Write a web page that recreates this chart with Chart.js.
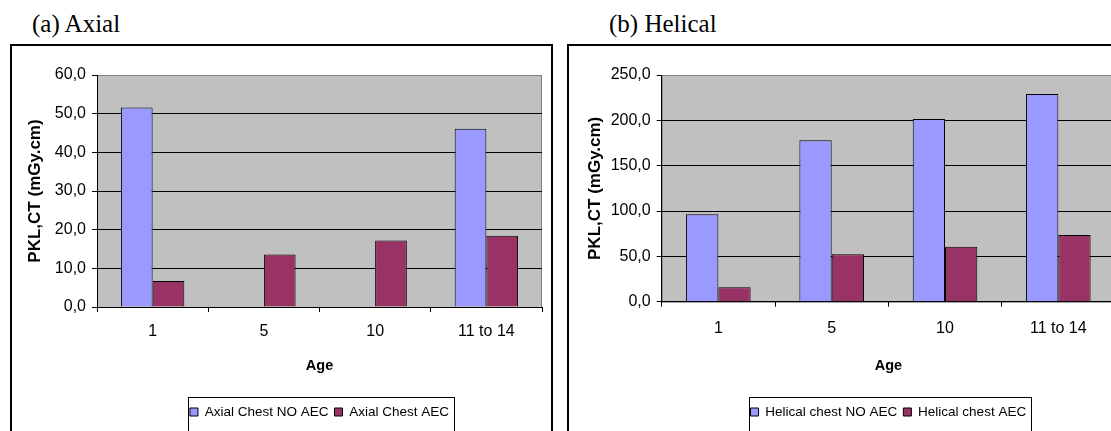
<!DOCTYPE html>
<html>
<head>
<meta charset="utf-8">
<script src="https://cdn.jsdelivr.net/npm/chart.js@4"></script>
<style>
  body { margin: 0; width: 1111px; height: 431px; overflow: hidden; background: #fff; position: relative; }
  .cap { position: absolute; top: 11px; font-family: 'Liberation Serif', 'Times New Roman', serif; font-size: 25px; line-height: 25px; color: #000; }
  .frame { position: absolute; top: 44px; height: 500px; border: 2px solid #000; box-sizing: border-box; }
  canvas { position: absolute; }
</style>
</head>
<body>
<div class="cap" style="left:32px">(a) Axial</div>
<div class="cap" style="left:609px">(b) Helical</div>
<div class="frame" style="left:10px;width:543px"></div>
<div class="frame" style="left:567px;width:600px"></div>
<canvas id="axial" width="539" height="385" style="left:12px;top:46px"></canvas>
<canvas id="helical" width="555" height="385" style="left:569px;top:46px"></canvas>
<script>
// données
const ages = ["1", "5", "10", "11 to 14"];
const axialNoAec = [51.6, null, null, 46.1];
const axialAec = [6.7, 13.6, 17.2, 18.4];
const helicalNoAec = [96.4, 178.0, 201.5, 229.1];
const helicalAec = [15.9, 52.3, 60.7, 73.6];
const axialMax = 60;
const axialStep = 10;
const helicalMax = 250;
const helicalStep = 50;

Chart.defaults.font.family = "'Liberation Sans', Arial, sans-serif";
Chart.defaults.color = "#000";

// fond gris de la zone de tracé, légende centrée et encadrée
const plotFrame = {
  id: "plotFrame",
  afterLayout(chart) {
    const lg = chart.legend;
    const a = chart.chartArea;
    const half = (lg.right - lg.left) / 2;
    const c = (a.left + a.right) / 2;
    lg.left = c - half;
    lg.right = c + half;
  },
  beforeDraw(chart) {
    const ctx = chart.ctx;
    const a = chart.chartArea;
    ctx.save();
    ctx.fillStyle = "#c0c0c0";
    ctx.fillRect(a.left, a.top, a.right - a.left, a.bottom - a.top);
    ctx.strokeStyle = "#808080";
    ctx.lineWidth = 1;
    ctx.strokeRect(a.left + 0.5, a.top + 0.5, a.right - a.left - 1, a.bottom - a.top);
    ctx.restore();
  },
  afterDraw(chart) {
    const boxes = chart.legend.legendHitBoxes;
    if (!boxes || !boxes.length) return;
    const first = boxes[0];
    const last = boxes[boxes.length - 1];
    const ctx = chart.ctx;
    const x0 = Math.round(first.left - 2) + 0.5;
    const x1 = Math.round(last.left + last.width + 5) + 0.5;
    const y0 = Math.round(first.top - 8) + 0.5;
    const y1 = Math.round(first.top + first.height + 12) + 0.5;
    ctx.save();
    ctx.strokeStyle = "#000";
    ctx.lineWidth = 1;
    ctx.strokeRect(x0, y0, x1 - x0, y1 - y0);
    ctx.restore();
  }
};

function decimalComma(v) {
  return v.toFixed(1).replace(".", ",");
}

function makeChart(id, names, noAec, aec, yMax, yStep, p) {
  return new Chart(document.getElementById(id), {
    type: "bar",
    data: {
      labels: ages,
      datasets: [
        {
          label: names[0],
          data: noAec,
          backgroundColor: "#9999ff",
          borderColor: "#000",
          borderWidth: 1,
        },
        {
          label: names[1],
          data: aec,
          backgroundColor: "#993366",
          borderColor: "#000",
          borderWidth: 1,
        },
      ],
    },
    options: {
      responsive: false,
      animation: false,
      events: [],
      devicePixelRatio: 1,
      datasets: { bar: { categoryPercentage: 0.57, barPercentage: 1 } },
      layout: { padding: { left: 0, right: 9, top: 29, bottom: 2.25 } },
      plugins: {
        tooltip: { enabled: false },
        legend: {
          position: "bottom",
          labels: { boxWidth: 8, boxHeight: 8, padding: 6, font: { size: 13.5 }, color: "#000" },
        },
      },
      scales: {
        x: {
          grid: { drawOnChartArea: false, tickLength: 5, color: "#000" },
          border: { color: "#000" },
          ticks: { padding: p.tickPad, font: { size: 16 }, maxRotation: 0, autoSkip: false },
          title: {
            display: true,
            text: "Age",
            font: { size: 14.5, weight: "bold" },
            padding: { top: 0, bottom: 25 },
          },
          afterFit: (s) => {
            s.height = p.xHeight;
          },
        },
        y: {
          min: 0,
          max: yMax,
          ticks: { stepSize: yStep, padding: 6, font: { size: 16 }, callback: decimalComma },
          grid: {
            color: (c) => (c.tick && c.tick.value === yMax ? "#808080" : "#000"),
            tickColor: "#000",
            tickLength: 5,
          },
          border: { color: "#000" },
          title: {
            display: true,
            text: "PKL,CT (mGy.cm)",
            font: { size: 17, weight: "bold" },
            padding: { top: p.yTitlePad, bottom: 0 },
          },
          afterFit: (s) => {
            s.width = p.yWidth;
          },
        },
      },
    },
    plugins: [plotFrame],
  });
}

makeChart("axial", ["Axial Chest NO AEC", "Axial Chest AEC"], axialNoAec, axialAec, axialMax, axialStep,
  { yWidth: 85, yTitlePad: 12.8, xHeight: 92.25, tickPad: 9.5 });
makeChart("helical", ["Helical chest NO AEC", "Helical chest AEC"], helicalNoAec, helicalAec, helicalMax, helicalStep,
  { yWidth: 92.7, yTitlePad: 15.8, xHeight: 97.55, tickPad: 11.8 });
</script>
</body>
</html>
